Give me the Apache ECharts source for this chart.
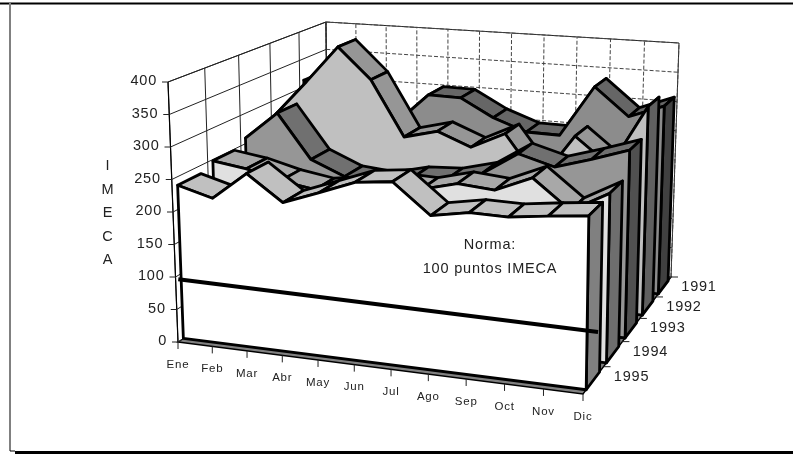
<!DOCTYPE html>
<html><head><meta charset="utf-8">
<style>html,body{margin:0;padding:0;background:#fff}#c{width:793px;height:454px}</style>
<script src="https://cdn.jsdelivr.net/npm/echarts@6/dist/echarts.min.js"></script>
</head><body><div id="c"></div>
<script>
// ---- data ----
const months = ['Ene','Feb','Mar','Abr','May','Jun','Jul','Ago','Sep','Oct','Nov','Dic'];
const years = ['1991','1992','1993','1994','1995'];
const imecaTicks = [0,50,100,150,200,250,300,350,400];
const v1991 = [312,300,280,250,302,301,271,251,250,336,290,312];
const v1992 = [275,335,398,346,254,268,246,273,200,278,234,335];
const v1993 = [259,305,233,210,205,218,221,235,271,255,272,291];
const v1994 = [248,240,226,217,225,235,233,247,242,266,222,253];
const v1995 = [237,222,265,226,246,267,273,228,238,237,244,250];
const seriesValues = [v1991,v1992,v1993,v1994,v1995];
const normaValues = [93,87];
// ---- styles ----
const frontColors = ['#8c8c8c','#c0c0c0','#969696','#e0e0e0','#ffffff'];
const ribbonColors = ['#666666','#969696','#707070','#a8a8a8','#c0c0c0'];
const capColors = ['#404040','#606060','#505050','#6e6e6e','#808080'];
// projection of the 3D box (corner positions on the page)
const floorQuad = [[178,342],[583,394],[671,277],[328,241]];
const topQuad = [[168,82],[587,114],[679,43],[326,22]];
const G = {left:100,top:100,width:100,height:100};
const FRONT = 0.15, BACK = 0.8, SLOTS = 5;

function homography(q){
  const [x0,y0]=q[0],[x1,y1]=q[1],[x2,y2]=q[2],[x3,y3]=q[3];
  const dx1=x1-x2,dx2=x3-x2,sx=x0-x1+x2-x3,dy1=y1-y2,dy2=y3-y2,sy=y0-y1+y2-y3;
  const den=dx1*dy2-dx2*dy1,g=(sx*dy2-dx2*sy)/den,h=(dx1*sy-sx*dy1)/den;
  const a=x1-x0+g*x1,b=x3-x0+h*x3,d=y1-y0+g*y1,e=y3-y0+h*y3;
  return (u,v)=>{const k=g*u+h*v+1;return [(a*u+b*v+x0)/k,(d*u+e*v+y0)/k];};
}
const H0=homography(floorQuad),H1=homography(topQuad);
function project(api,m,val,depth){
  const p=api.coord([m,val]);
  const u=(p[0]-G.left)/G.width,w=(G.top+G.height-p[1])/G.height;
  const a=H0(u,depth),b=H1(u,depth);
  return [a[0]+(b[0]-a[0])*w,a[1]+(b[1]-a[1])*w];
}
const BLK={stroke:'#000',lineWidth:2.8,lineJoin:'round'};
function poly(points,fill,st){return {type:'polygon',shape:{points},style:Object.assign({fill},st||BLK)};}
function line(a,b,st){return {type:'line',shape:{x1:a[0],y1:a[1],x2:b[0],y2:b[1]},style:Object.assign({fill:null},st)};}
function txt(x,y,text,size,align){return {type:'text',style:{x,y,text,fill:'#222',fontSize:size,fontFamily:'"Liberation Sans",Arial,sans-serif',align:align||'center',verticalAlign:'middle'}};}

// walls and value gridlines, one per IMECA tick
function renderValueGrid(params,api){
  const val=api.value(0),i=params.dataIndex,ch=[];
  const thin={stroke:'#222',lineWidth:1};
  const dash={stroke:'#444',lineWidth:1,lineDash:[4,2]};
  if(i===0){
    ch.push(poly([project(api,0,0,0),project(api,0,400,0),project(api,0,400,1),project(api,0,0,1)],'#fff',thin));
    ch.push(poly([project(api,0,0,1),project(api,0,400,1),project(api,11,400,1),project(api,11,0,1)],'#fff',thin));
    ch.push(line(project(api,0,0,0),project(api,0,400,0),{stroke:'#000',lineWidth:1.2}));
  }
  ch.push(line(project(api,0,val,0),project(api,0,val,1),thin));
  ch.push(line(project(api,0,val,1),project(api,11,val,1),dash));
  const p=project(api,0,val,0);
  ch.push(line([p[0]-6,p[1]],p,{stroke:'#222',lineWidth:1}));
  ch.push(txt(p[0]-11,p[1]-1,String(val),14.5,'right'));
  return {type:'group',children:ch};
}
// back-wall month lines, month ticks and labels
function renderMonths(params,api){
  const m=api.value(0),ch=[];
  ch.push(line(project(api,m,0,1),project(api,m,400,1),{stroke:'#444',lineWidth:1,lineDash:[4,2]}));
  const p=project(api,m,0,0);
  ch.push(line(p,[p[0],p[1]+7],{stroke:'#222',lineWidth:1}));
  ch.push(txt(p[0],p[1]+22.5,months[m],11.5));
  return {type:'group',children:ch};
}
// left-wall depth lines, year ticks and labels
function renderYears(params,api){
  const s=api.value(0),d=(s+1)/SLOTS,ch=[];
  ch.push(line(project(api,0,0,d),project(api,0,400,d),{stroke:'#222',lineWidth:1}));
  const p=project(api,11,0,d);
  ch.push(line(p,[p[0]+7,p[1]],{stroke:'#222',lineWidth:1}));
  ch.push(txt(p[0]+28,p[1]+10,years[SLOTS-1-s],14.5));
  return {type:'group',children:ch};
}
function renderFloor(params,api){
  return poly([project(api,0,0,0),project(api,11,0,0),project(api,11,0,1),project(api,0,0,1)],'#808080',{stroke:'#000',lineWidth:1.4});
}
function renderNorma(params,api){
  if(params.dataIndex) return null;
  const a=project(api,-0.03,api.value(0,0),0.02),b=project(api,11.3,api.value(0,1),0.02);
  return line(a,b,{stroke:'#000',lineWidth:4});
}
// one ribbon segment per month; the last month also draws the front face and end cap
function makeYearRender(s){
  const slot=SLOTS-1-s,zf=(slot+FRONT)/SLOTS,zb=(slot+BACK)/SLOTS;
  return function(params,api){
    const i=params.dataIndex,n=months.length,ch=[];
    if(i<n-1){
      const v=api.value(1),w=api.value(1,i+1);
      ch.push(poly([project(api,i,v,zf),project(api,i,v,zb),project(api,i+1,w,zb),project(api,i+1,w,zf)],ribbonColors[s]));
    } else {
      const pts=[project(api,0,0,zf)];
      for(let k=0;k<n;k++) pts.push(project(api,k,api.value(1,k),zf));
      pts.push(project(api,n-1,0,zf));
      const v=api.value(1);
      ch.push(poly([project(api,n-1,0,zf),project(api,n-1,v,zf),project(api,n-1,v,zb),project(api,n-1,0,zb)],capColors[s]));
      ch.push(poly(pts,frontColors[s]));
    }
    return {type:'group',children:ch};
  };
}
const series=[
 {type:'custom',z:1,clip:false,data:[[0]],encode:{x:0},renderItem:renderFloor,silent:true},
 {type:'custom',z:2,clip:false,data:imecaTicks.map(v=>[v]),renderItem:renderValueGrid,silent:true},
 {type:'custom',z:3,clip:false,data:months.map((m,i)=>[i]),renderItem:renderMonths,silent:true},
 {type:'custom',z:3,clip:false,data:years.map((y,i)=>[i]),renderItem:renderYears,silent:true},
];
seriesValues.forEach((vals,s)=>series.push({type:'custom',z:10+s,clip:false,name:years[s],silent:true,
  data:vals.map((v,i)=>[i,v]),encode:{x:0,y:1},renderItem:makeYearRender(s)}));
series.push({type:'custom',z:20,clip:false,silent:true,data:normaValues.map(v=>[v]),renderItem:renderNorma});

// letter spacing of the reference's labels
const origFill=CanvasRenderingContext2D.prototype.fillText;
CanvasRenderingContext2D.prototype.fillText=function(){this.letterSpacing='0.8px';return origFill.apply(this,arguments);};

const FF='"Liberation Sans",Arial,sans-serif';
const chart=echarts.init(document.getElementById('c'),null,{renderer:'canvas'});
chart.setOption({
  animation:false,backgroundColor:'#fff',
  grid:G,
  xAxis:{show:false,type:'value',min:0,max:11},
  yAxis:{show:false,type:'value',min:0,max:400},
  series,
  graphic:[
    {type:'line',z:30,shape:{x1:0,y1:3.5,x2:793,y2:3.5},style:{stroke:'#000',lineWidth:2}},
    {type:'line',z:30,shape:{x1:10,y1:3,x2:10,y2:451},style:{stroke:'#808080',lineWidth:2}},
    {type:'line',z:30,shape:{x1:15,y1:452.5,x2:793,y2:452.5},style:{stroke:'#000',lineWidth:3}},
    {type:'line',z:30,shape:{x1:10,y1:451,x2:15,y2:451},style:{stroke:'#000',lineWidth:1}},
    {type:'text',z:30,style:{x:108,y:213,text:'I\nM\nE\nC\nA',fill:'#222',fontSize:14.5,lineHeight:23.5,fontFamily:FF,align:'center',verticalAlign:'middle'}},
    {type:'text',z:30,style:{x:490,y:257,text:'Norma:\n100 puntos IMECA',fill:'#222',fontSize:14.5,lineHeight:24.5,fontFamily:FF,align:'center',verticalAlign:'middle'}}
  ]
});
</script></body></html>
